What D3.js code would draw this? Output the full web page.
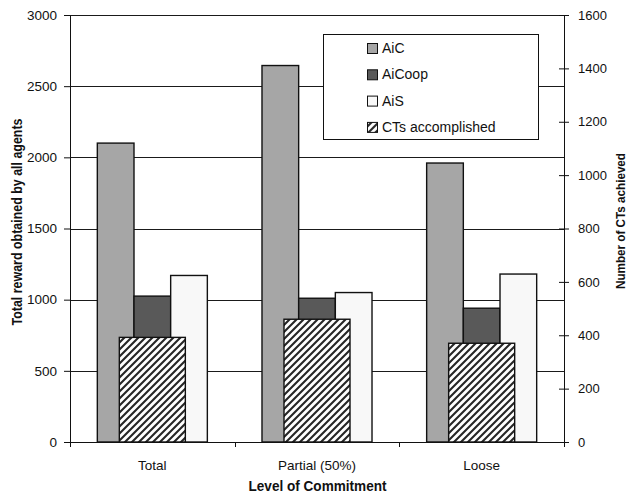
<!DOCTYPE html>
<html>
<head>
<meta charset="utf-8">
<script src="https://cdn.jsdelivr.net/npm/d3@7"></script>
<style>
  html, body { margin: 0; padding: 0; background: #fff; }
  svg { display: block; font-family: "Liberation Sans", Arial, sans-serif; }
</style>
</head>
<body>
<svg id="chart" width="628" height="500"></svg>
<script>
// Commitment levels on the x axis
const categories = ["Total", "Partial (50%)", "Loose"];
// Reward series (left axis)
const seriesNames = ["AiC", "AiCoop", "AiS"];
const aicReward = [2100, 2645, 1960];
const aicoopReward = [1025, 1010, 940];
const aisReward = [1170, 1050, 1180];
// CTs accomplished (right axis)
const ctsAccomplished = [392, 460, 370];
// Axis ticks
const rewardTicks = [0, 500, 1000, 1500, 2000, 2500, 3000];
const ctTicks = [0, 200, 400, 600, 800, 1000, 1200, 1400, 1600];
const legendLabels = ["AiC", "AiCoop", "AiS", "CTs accomplished"];

const seriesValues = [aicReward, aicoopReward, aisReward];
const seriesColors = ["#a6a6a6", "#595959", "#f8f8f8"];

const svg = d3.select("#chart");
const plotLeft = 70, plotRight = 564, plotTop = 15, plotBottom = 442;
const fmt = d3.format("d");

const x0 = d3.scaleBand().domain(categories).range([plotLeft, plotRight]).padding(0);
const x1 = d3.scaleBand().domain(seriesNames).range([0, x0.bandwidth()])
  .paddingInner(0).paddingOuter(0.745);
const yL = d3.scaleLinear().domain([0, 3000]).range([plotBottom, plotTop]);
const yR = d3.scaleLinear().domain([0, 1600]).range([plotBottom, plotTop]);

// Diagonal hatch for the CTs bars
const defs = svg.append("defs");
const pat = defs.append("pattern").attr("id", "hatch")
  .attr("patternUnits", "userSpaceOnUse").attr("width", 7).attr("height", 7);
pat.append("rect").attr("width", 7).attr("height", 7).attr("fill", "#fff");
pat.append("path").attr("d", "M-1,1 L1,-1 M0,7 L7,0 M6,8 L8,6")
  .attr("stroke", "#262626").attr("stroke-width", 2.1);

// Horizontal gridlines
svg.append("g").selectAll("line").data(rewardTicks.slice(1)).join("line")
  .attr("x1", plotLeft).attr("x2", plotRight)
  .attr("y1", d => Math.round(yL(d)) + 0.5).attr("y2", d => Math.round(yL(d)) + 0.5)
  .attr("stroke", "#1a1a1a").attr("stroke-width", 1);

// Reward bars
const groups = svg.append("g").selectAll("g").data(categories).join("g")
  .attr("transform", d => `translate(${x0(d)},0)`);
groups.selectAll("rect").data((c, i) => seriesNames.map((s, j) => ({ s, v: seriesValues[j][i], color: seriesColors[j] })))
  .join("rect")
  .attr("x", d => x1(d.s))
  .attr("width", x1.bandwidth())
  .attr("y", d => yL(d.v))
  .attr("height", d => yL(0) - yL(d.v))
  .attr("fill", d => d.color)
  .attr("stroke", "#111").attr("stroke-width", 1.4);

// CTs accomplished bars (overlaid, right axis)
const hatchW = x1.bandwidth() * 1.8;
svg.append("g").selectAll("rect").data(categories).join("rect")
  .attr("x", c => x0(c) + x0.bandwidth() / 2 - hatchW / 2)
  .attr("width", hatchW)
  .attr("y", (c, i) => yR(ctsAccomplished[i]))
  .attr("height", (c, i) => yR(0) - yR(ctsAccomplished[i]))
  .attr("fill", "url(#hatch)")
  .attr("stroke", "#111").attr("stroke-width", 1.4);

// Left axis
const axL = svg.append("g").attr("transform", `translate(${plotLeft},0)`)
  .call(d3.axisLeft(yL).tickValues(rewardTicks).tickFormat(fmt)
    .tickSize(6).tickSizeOuter(0).tickPadding(7));
axL.selectAll("text").attr("font-size", 13.5).attr("fill", "#111").attr("font-family", null);
axL.selectAll("line, path").attr("stroke", "#111");

// Right axis with crossing ticks
const axR = svg.append("g").attr("transform", `translate(${plotRight},0)`)
  .call(d3.axisRight(yR).tickValues(ctTicks).tickFormat(fmt)
    .tickSize(5).tickSizeOuter(0).tickPadding(9));
axR.selectAll(".tick line").attr("x1", -5);
axR.selectAll("text").attr("font-size", 13).attr("fill", "#111").attr("font-family", null);
axR.selectAll("line, path").attr("stroke", "#111");

// Bottom axis: labels centred, ticks on category boundaries
const axB = svg.append("g").attr("transform", `translate(0,${plotBottom})`)
  .call(d3.axisBottom(x0).tickSize(0).tickPadding(18));
axB.selectAll("text").attr("font-size", 13.5).attr("fill", "#111").attr("font-family", null);
axB.select(".domain").attr("stroke", "#111");
const bounds = categories.map(c => x0(c)).concat([plotRight]);
axB.selectAll(".bound").data(bounds).join("line").attr("class", "bound")
  .attr("x1", d => Math.round(d) + 0.5).attr("x2", d => Math.round(d) + 0.5)
  .attr("y1", 0).attr("y2", 5).attr("stroke", "#111");

// Axis titles
svg.append("text").attr("x", (plotLeft + plotRight) / 2 + 0.5).attr("y", 490.5)
  .attr("text-anchor", "middle").attr("font-size", 14.5).attr("font-weight", "bold")
  .attr("textLength", 138).attr("lengthAdjust", "spacingAndGlyphs").attr("fill", "#111")
  .text("Level of Commitment");
svg.append("text").attr("transform", "translate(22,222) rotate(-90)")
  .attr("text-anchor", "middle").attr("font-size", 14).attr("font-weight", "bold")
  .attr("textLength", 207).attr("lengthAdjust", "spacingAndGlyphs").attr("fill", "#111")
  .text("Total reward obtained by all agents");
svg.append("text").attr("transform", "translate(624.5,221) rotate(-90)")
  .attr("text-anchor", "middle").attr("font-size", 13.5).attr("font-weight", "bold")
  .attr("textLength", 136).attr("lengthAdjust", "spacingAndGlyphs").attr("fill", "#111")
  .text("Number of CTs achieved");

// Legend
const lg = svg.append("g");
lg.append("rect").attr("x", 323.5).attr("y", 34.5).attr("width", 215).attr("height", 105)
  .attr("fill", "#fff").attr("stroke", "#111");
const swatchFills = seriesColors.concat(["url(#hatch)"]);
const rows = lg.selectAll("g").data(legendLabels).join("g")
  .attr("transform", (d, i) => `translate(367,${48 + i * 26.3})`);
rows.append("rect").attr("x", 0.5).attr("y", -4.5).attr("width", 10).attr("height", 10)
  .attr("fill", (d, i) => swatchFills[i]).attr("stroke", "#111");
rows.append("text").attr("x", 15).attr("y", 0).attr("dy", "0.36em")
  .attr("font-size", 14).attr("fill", "#111").text(d => d);
</script>
</body>
</html>
